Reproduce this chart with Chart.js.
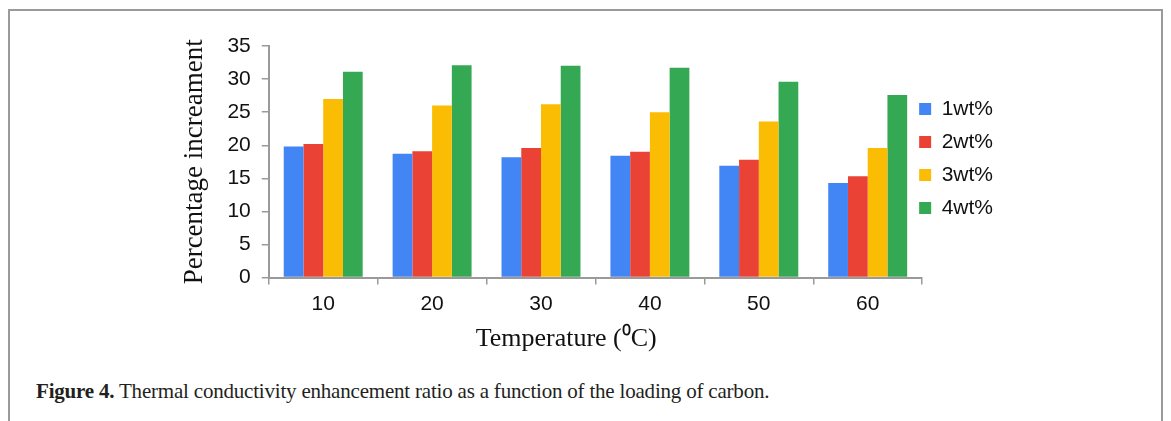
<!DOCTYPE html>
<html>
<head>
<meta charset="utf-8">
<script src="https://cdn.jsdelivr.net/npm/chart.js@4.4.1/dist/chart.umd.min.js"></script>
<style>
  html, body { margin: 0; padding: 0; background: #fff; }
  body { width: 1171px; height: 421px; position: relative; overflow: hidden; }
  .frame {
    position: absolute; left: 8px; top: 9px; width: 1151px; height: 430px;
    border: 2px solid #9a9a9a; border-bottom: none;
  }
  .chart-box { position: absolute; left: 0; top: 0; width: 1171px; height: 360px; }
  .caption {
    position: absolute; left: 36px; top: 379px;
    font-family: "Liberation Serif", serif; font-size: 21px; color: #231f20;
    white-space: nowrap; letter-spacing: -0.2px;
  }
  .caption b { font-weight: bold; }
</style>
</head>
<body>
<div class="frame"></div>
<div class="chart-box"><canvas id="chart"></canvas></div>
<div class="caption"><b>Figure 4.</b> Thermal conductivity enhancement ratio as a function of the loading of carbon.</div>

<script>
// values
const temperatures = ['10', '20', '30', '40', '50', '60'];
const wt1 = [19.8, 18.7, 18.2, 18.4, 16.9, 14.3];
const wt2 = [20.2, 19.1, 19.6, 19.0, 17.8, 15.3];
const wt3 = [27.0, 26.0, 26.2, 25.0, 23.6, 19.6];
const wt4 = [31.1, 32.1, 32.0, 31.7, 29.6, 27.6];

const seriesNames = ['1wt%', '2wt%', '3wt%', '4wt%'];
const seriesColors = ['#4285F4', '#EA4335', '#FBBC04', '#34A853'];

const axisColor = '#9a9a9a';
const nbsp = '\u00a0';

// the legend sits a bit higher and closer to the axis than chart.js puts it
const legendNudge = {
  id: 'legendNudge',
  afterLayout(chart) {
    const lg = chart.legend;
    const dx = -15, dy = -42;
    lg.left += dx; lg.right += dx;
    lg.top += dy; lg.bottom += dy;
  },
};

const ctx = document.getElementById('chart').getContext('2d');
new Chart(ctx, {
  type: 'bar',
  data: {
    labels: temperatures,
    datasets: [wt1, wt2, wt3, wt4].map((vals, i) => ({
      label: seriesNames[i],
      data: vals,
      backgroundColor: seriesColors[i],
      borderWidth: 0,
      categoryPercentage: 0.725,
      barPercentage: 1.0,
    })),
  },
  plugins: [legendNudge],
  options: {
    responsive: true,
    maintainAspectRatio: false,
    animation: false,
    layout: { padding: { left: 175, top: 46, right: 153, bottom: 5 } },
    scales: {
      x: {
        grid: { display: true, drawOnChartArea: false, tickLength: 7, color: axisColor, lineWidth: 1.5 },
        border: { color: axisColor, width: 2 },
        ticks: { color: '#111', padding: 7, font: { family: 'Liberation Sans', size: 21 } },
        title: {
          display: true,
          // title is off-centre to the left in the original
          text: 'Temperature (\u2070C)' + nbsp.repeat(9),
          color: '#111',
          padding: { top: 0, bottom: 0 },
          font: { family: 'Liberation Serif', size: 26 },
        },
      },
      y: {
        min: 0,
        max: 35,
        ticks: { stepSize: 5, color: '#111', padding: 11, font: { family: 'Liberation Sans', size: 21 } },
        grid: { display: true, drawOnChartArea: false, tickLength: 7, color: axisColor, lineWidth: 1.5 },
        border: { color: axisColor, width: 2 },
        title: {
          display: true,
          text: 'Percentage increament',
          color: '#111',
          padding: { top: 4, bottom: 5 },
          font: { family: 'Liberation Serif', size: 27 },
        },
      },
    },
    plugins: {
      legend: {
        display: true,
        position: 'right',
        labels: {
          boxWidth: 12,
          boxHeight: 12,
          padding: 12,
          color: '#111',
          font: { family: 'Liberation Sans', size: 21 },
        },
      },
      tooltip: { enabled: false },
    },
  },
});
</script>
</body>
</html>
